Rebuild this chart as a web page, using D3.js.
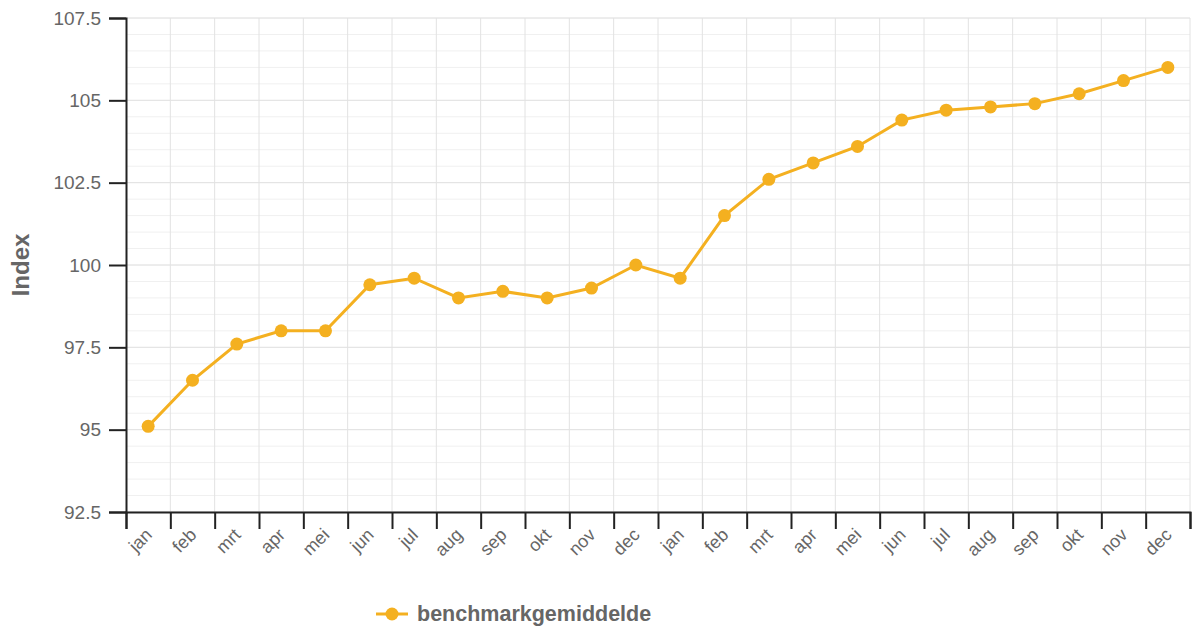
<!DOCTYPE html>
<html>
<head>
	<meta charset="utf-8">
	<title>Index benchmarkgemiddelde</title>
	<style>
		body { margin: 0; background: #fff; }
		svg { display: block; font-family: 'Liberation Sans', Arial, sans-serif; }
		.tick text { fill: #666; }
	</style>
</head>
<body>
	<svg width="1192" height="628"></svg>
<script src="https://d3js.org/d3.v7.min.js"></script>
<script>
	// months over two years
	let months = ['jan','feb','mrt','apr','mei','jun','jul','aug','sep','okt','nov','dec',
				  'jan','feb','mrt','apr','mei','jun','jul','aug','sep','okt','nov','dec']

	let values = [95.1, 96.5, 97.6, 98.0, 98.0, 99.4, 99.6, 99.0, 99.2, 99.0, 99.3, 100.0,
				  99.6, 101.5, 102.6, 103.1, 103.6, 104.4, 104.7, 104.8, 104.9, 105.2, 105.6, 106.0]

	let yTicks = [92.5, 95, 97.5, 100, 102.5, 105, 107.5]
	let yMinor = d3.range(92.5, 107.51, 0.5)

	let seriesName = 'benchmarkgemiddelde'
	let lineColor = '#f4b020'

	let width = 1192
	let height = 628
	let margin = {top: 18, right: 2, bottom: 116, left: 126}

	let svg = d3.select('svg')

	let x = d3.scaleBand()
		.domain(d3.range(months.length))
		.range([margin.left, width - margin.right])

	let y = d3.scaleLinear()
		.domain([92.5, 107.5])
		.range([height - margin.bottom, margin.top])

	// minor horizontal grid
	svg.append('g')
		.selectAll('line')
		.data(yMinor)
		.join('line')
		.attr('x1', margin.left)
		.attr('x2', width - margin.right)
		.attr('y1', d => y(d))
		.attr('y2', d => y(d))
		.style('stroke', '#f0f0f0')
		.style('stroke-width', 1)

	// major horizontal grid
	svg.append('g')
		.selectAll('line')
		.data(yTicks)
		.join('line')
		.attr('x1', margin.left)
		.attr('x2', width - margin.right)
		.attr('y1', d => y(d))
		.attr('y2', d => y(d))
		.style('stroke', '#e2e2e2')
		.style('stroke-width', 1)

	// vertical grid at band edges
	svg.append('g')
		.selectAll('line')
		.data(d3.range(1, months.length + 1))
		.join('line')
		.attr('x1', d => d < months.length ? x(d) : x.range()[1])
		.attr('x2', d => d < months.length ? x(d) : x.range()[1])
		.attr('y1', margin.top)
		.attr('y2', height - margin.bottom)
		.style('stroke', '#e2e2e2')
		.style('stroke-width', 1)

	// y axis
	let yAxis = svg.append('g')
		.attr('transform', `translate(${margin.left},0)`)
		.call(d3.axisLeft(y).tickValues(yTicks).tickSize(17).tickPadding(8).tickFormat(d => String(d)))
	yAxis.select('.domain').style('stroke', '#222').style('stroke-width', 2)
	yAxis.selectAll('.tick line').style('stroke', '#222').style('stroke-width', 2)
	yAxis.selectAll('.tick text').style('font-size', '19px')

	// x axis, ticks on band edges
	let xEdge = d3.scaleLinear()
		.domain([0, months.length])
		.range(x.range())

	let xAxis = svg.append('g')
		.attr('transform', `translate(0,${height - margin.bottom})`)
		.call(d3.axisBottom(xEdge).tickValues(d3.range(0, months.length + 1)).tickSize(17).tickFormat(''))
	xAxis.select('.domain').style('stroke', '#222').style('stroke-width', 2)
	xAxis.selectAll('.tick line').style('stroke', '#222').style('stroke-width', 2)

	svg.append('g')
		.selectAll('text')
		.data(months)
		.join('text')
		.attr('transform', (d, i) => `translate(${x(i) + x.bandwidth() / 2 + 5},${height - margin.bottom + 24}) rotate(-45)`)
		.attr('text-anchor', 'end')
		.style('font-size', '18px')
		.style('fill', '#666')
		.text(d => d)

	// y label
	svg.append('text')
		.attr('transform', `translate(29,${(margin.top + height - margin.bottom) / 2}) rotate(-90)`)
		.attr('text-anchor', 'middle')
		.style('font-size', '24px')
		.style('font-weight', 'bold')
		.style('fill', '#666')
		.text('Index')

	// line + points
	let line = d3.line()
		.x((d, i) => x(i) + x.bandwidth() / 2)
		.y(d => y(d))

	svg.append('path')
		.datum(values)
		.attr('d', line)
		.style('fill', 'none')
		.style('stroke', lineColor)
		.style('stroke-width', 3)

	svg.append('g')
		.selectAll('circle')
		.data(values)
		.join('circle')
		.attr('cx', (d, i) => x(i) + x.bandwidth() / 2)
		.attr('cy', d => y(d))
		.attr('r', 6.5)
		.style('fill', lineColor)

	// legend
	let legend = svg.append('g')
		.attr('transform', 'translate(392,614)')

	legend.append('line')
		.attr('x1', -16)
		.attr('x2', 16)
		.style('stroke', lineColor)
		.style('stroke-width', 3)

	legend.append('circle')
		.attr('r', 6.5)
		.style('fill', lineColor)

	legend.append('text')
		.attr('x', 25)
		.attr('y', 7)
		.style('font-size', '21.5px')
		.style('font-weight', 'bold')
		.style('fill', '#666')
		.text(seriesName)
</script>
</body>
</html>
